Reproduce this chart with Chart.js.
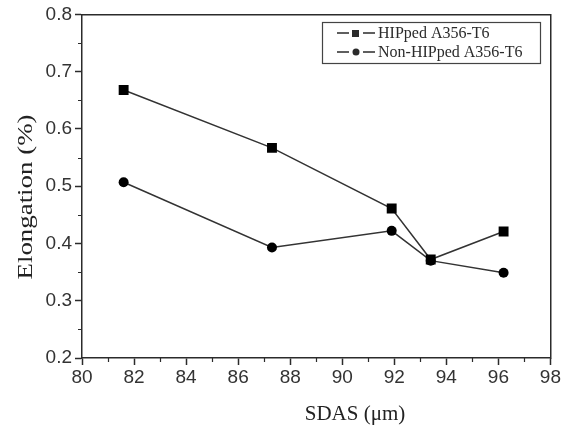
<!DOCTYPE html>
<html>
<head>
<meta charset="utf-8">
<script src="https://cdn.jsdelivr.net/npm/chart.js@4"></script>
<style>
  html,body{margin:0;padding:0;background:#fff;}
  #wrap{width:562px;height:427px;}
</style>
</head>
<body>
<div id="wrap"><canvas id="c" width="562" height="427"></canvas></div>
<script>
// data
const sdas       = [81.6, 87.3, 91.9, 93.4, 96.2];
const hipped     = [0.668, 0.567, 0.461, 0.372, 0.421];
const nonHipped  = [0.507, 0.393, 0.422, 0.370, 0.349];
const seriesNames = ['HIPped A356-T6', 'Non-HIPped A356-T6'];
const xTicks = [80, 82, 84, 86, 88, 90, 92, 94, 96, 98];
const yTicks = [0.2, 0.3, 0.4, 0.5, 0.6, 0.7, 0.8];
const xTitle = 'SDAS (μm)';
const yTitle = 'Elongation (%)';

const INK = '#2b2b2b';
const SERIF = '"Liberation Serif", "Times New Roman", serif';
const pts = (xs, ys) => xs.map((x,i)=>({x, y: ys[i]}));

// minor ticks, axis titles and the boxed legend (top right)
const decor = {
  id: 'decor',
  afterDraw(chart){
    const {ctx, chartArea:a, scales:{x, y}} = chart;
    ctx.save();
    ctx.strokeStyle = INK; ctx.lineWidth = 1.2;
    ctx.beginPath();
    for (let v = 81; v < 98; v += 2){
      const px = Math.round(x.getPixelForValue(v)) + 0.5;
      ctx.moveTo(px, a.bottom); ctx.lineTo(px, a.bottom + 4);
    }
    for (let v = 0.25; v < 0.8; v += 0.1){
      const py = Math.round(y.getPixelForValue(v)) + 0.5;
      ctx.moveTo(a.left, py); ctx.lineTo(a.left - 4, py);
    }
    ctx.stroke();

    // axis titles (original is a bit off-centre and stretched)
    ctx.fillStyle = '#222';
    ctx.textAlign = 'center'; ctx.textBaseline = 'middle';
    ctx.font = '21px ' + SERIF;
    ctx.fillText(xTitle, 355, 414);
    ctx.save();
    ctx.translate(26, 197); ctx.rotate(-Math.PI/2); ctx.scale(1.28, 1);
    ctx.fillText(yTitle, 0, 0);
    ctx.restore();

    // legend
    const bx = 322, by = 22, bw = 218, bh = 41;
    ctx.lineWidth = 1.2; ctx.strokeStyle = '#444';
    ctx.strokeRect(bx + 0.5, by + 0.5, bw, bh);
    ctx.font = '16px ' + SERIF;
    ctx.textAlign = 'left';
    ctx.fillStyle = INK; ctx.strokeStyle = INK;
    seriesNames.forEach((name, i) => {
      const ly = by + 11 + i * 19;
      ctx.lineWidth = 1.5;
      ctx.beginPath(); ctx.moveTo(337, ly); ctx.lineTo(349, ly); ctx.moveTo(363, ly); ctx.lineTo(375, ly); ctx.stroke();
      if (i === 0) ctx.fillRect(352, ly - 3, 7, 7);
      else { ctx.beginPath(); ctx.arc(356, ly, 3.5, 0, Math.PI*2); ctx.fill(); }
      ctx.fillText(name, 378, ly + 1);
    });
    ctx.restore();
  }
};

new Chart(document.getElementById('c'), {
  type: 'scatter',
  data: {
    datasets: [
      { label: seriesNames[0], data: pts(sdas, hipped), showLine: true,
        borderColor: '#333', borderWidth: 1.5, pointStyle: 'rect', pointRadius: 7,
        pointBackgroundColor: '#000', pointBorderColor: '#000', pointBorderWidth: 0 },
      { label: seriesNames[1], data: pts(sdas, nonHipped), showLine: true,
        borderColor: '#333', borderWidth: 1.5, pointStyle: 'circle', pointRadius: 5,
        pointBackgroundColor: '#000', pointBorderColor: '#000', pointBorderWidth: 0 }
    ]
  },
  options: {
    responsive: false, animation: false,
    layout: { padding: { left: 0, right: 9, top: 14, bottom: 0 } },
    plugins: { legend: { display: false }, tooltip: { enabled: false } },
    scales: {
      x: {
        type: 'linear', min: 80, max: 98,
        afterBuildTicks: s => { s.ticks = xTicks.map(v => ({value: v})); },
        afterFit: s => { s.height = 69; },
        border: { display: true, color: INK, width: 1.5 },
        grid: { drawOnChartArea: false, drawTicks: true, tickLength: 7, color: INK, tickWidth: 1.5 },
        ticks: { color: '#333', padding: 1, maxRotation: 0,
                 font: { family: '"Liberation Sans", Arial, sans-serif', size: 19 } },
        title: { display: false }
      },
      y: {
        type: 'linear', min: 0.2, max: 0.8,
        afterBuildTicks: s => { s.ticks = yTicks.map(v => ({value: v})); },
        afterFit: s => { s.width = 82; },
        border: { display: true, color: INK, width: 1.5 },
        grid: { drawOnChartArea: false, drawTicks: true, tickLength: 7, color: INK, tickWidth: 1.5 },
        ticks: { color: '#333', padding: 3, callback: v => v.toFixed(1),
                 font: { family: '"Liberation Sans", Arial, sans-serif', size: 19 } },
        title: { display: false }
      },
      x2: { position: 'top', type: 'linear', min: 80, max: 98, display: true,
            afterFit: s => { s.height = 0; },
            border: { display: true, color: INK, width: 1.5 },
            grid: { display: false }, ticks: { display: false } },
      y2: { position: 'right', type: 'linear', min: 0.2, max: 0.8, display: true,
            afterFit: s => { s.width = 0; },
            border: { display: true, color: INK, width: 1.5 },
            grid: { display: false }, ticks: { display: false } }
    }
  },
  plugins: [decor]
});
</script>
</body>
</html>
